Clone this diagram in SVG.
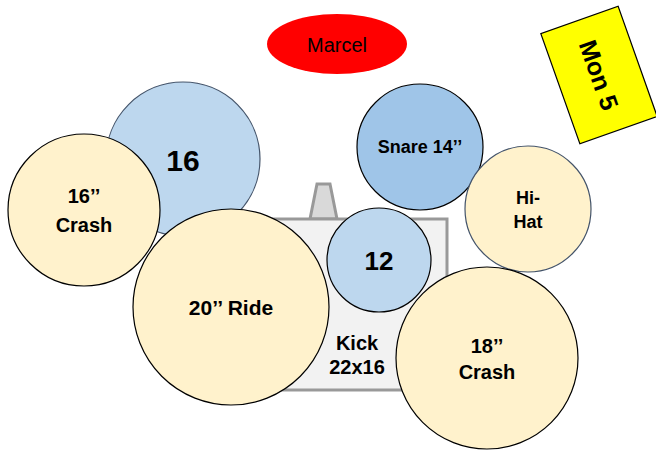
<svg xmlns="http://www.w3.org/2000/svg" width="656" height="452" viewBox="0 0 656 452">
<style>
text{font-family:"Liberation Sans",Arial,sans-serif;font-weight:bold;fill:#000;text-anchor:middle;dominant-baseline:central}
text.plain{font-weight:normal}
.cym{fill:#fff2cc;stroke:#000;stroke-width:1.2}
.tom{fill:#bdd7ee;stroke:#000;stroke-width:1.2}
</style>
<rect width="656" height="452" fill="#fff"/>
<g id="kick">
<polygon points="310,219 337,219 330,184 317,184" fill="#d9d9d9" stroke="#999" stroke-width="3"/>
<rect x="262" y="219" width="185" height="171" fill="#f2f2f2" stroke="#999" stroke-width="3"/>
<text x="357" y="343" font-size="20">Kick</text>
<text x="357" y="367" font-size="20">22x16</text>
</g>
<g id="tom16">
<circle cx="183" cy="159" r="77" fill="#bdd7ee" stroke="#44546a" stroke-width="1.2"/>
<text x="183" y="160" font-size="30">16</text>
</g>
<g id="crash16">
<circle cx="84" cy="210" r="76" class="cym"/>
<text x="84" y="196" font-size="20">16’’</text>
<text x="84" y="225" font-size="20">Crash</text>
</g>
<g id="ride">
<circle cx="231" cy="307" r="98" class="cym"/>
<text x="231" y="307" font-size="21">20’’ Ride</text>
</g>
<g id="snare">
<circle cx="420" cy="147" r="63" fill="#9fc5e8" stroke="#000" stroke-width="1.2"/>
<text x="420" y="147" font-size="18">Snare 14’’</text>
</g>
<g id="hihat">
<circle cx="528" cy="209" r="63" fill="#fff2cc" stroke="#44546a" stroke-width="1.2"/>
<text x="528" y="198" font-size="18">Hi-</text>
<text x="528" y="222" font-size="18">Hat</text>
</g>
<g id="tom12">
<circle cx="379" cy="260" r="52" class="tom"/>
<text x="379" y="261" font-size="26">12</text>
</g>
<g id="crash18">
<circle cx="487" cy="358" r="91" class="cym"/>
<text x="487" y="346" font-size="20">18’’</text>
<text x="487" y="372" font-size="20">Crash</text>
</g>
<g id="marcel">
<ellipse cx="337" cy="44" rx="70" ry="30" fill="#ff0000"/>
<text class="plain" x="337" y="45" font-size="20">Marcel</text>
</g>
<g id="mon5" transform="translate(599,75) rotate(-19.5)">
<rect x="-41" y="-58.5" width="82" height="117" fill="#ffff00" stroke="#000" stroke-width="1.2"/>
<text x="0" y="0" font-size="25" transform="rotate(90)">Mon 5</text>
</g>
<g id="connectors"></g>
</svg>
